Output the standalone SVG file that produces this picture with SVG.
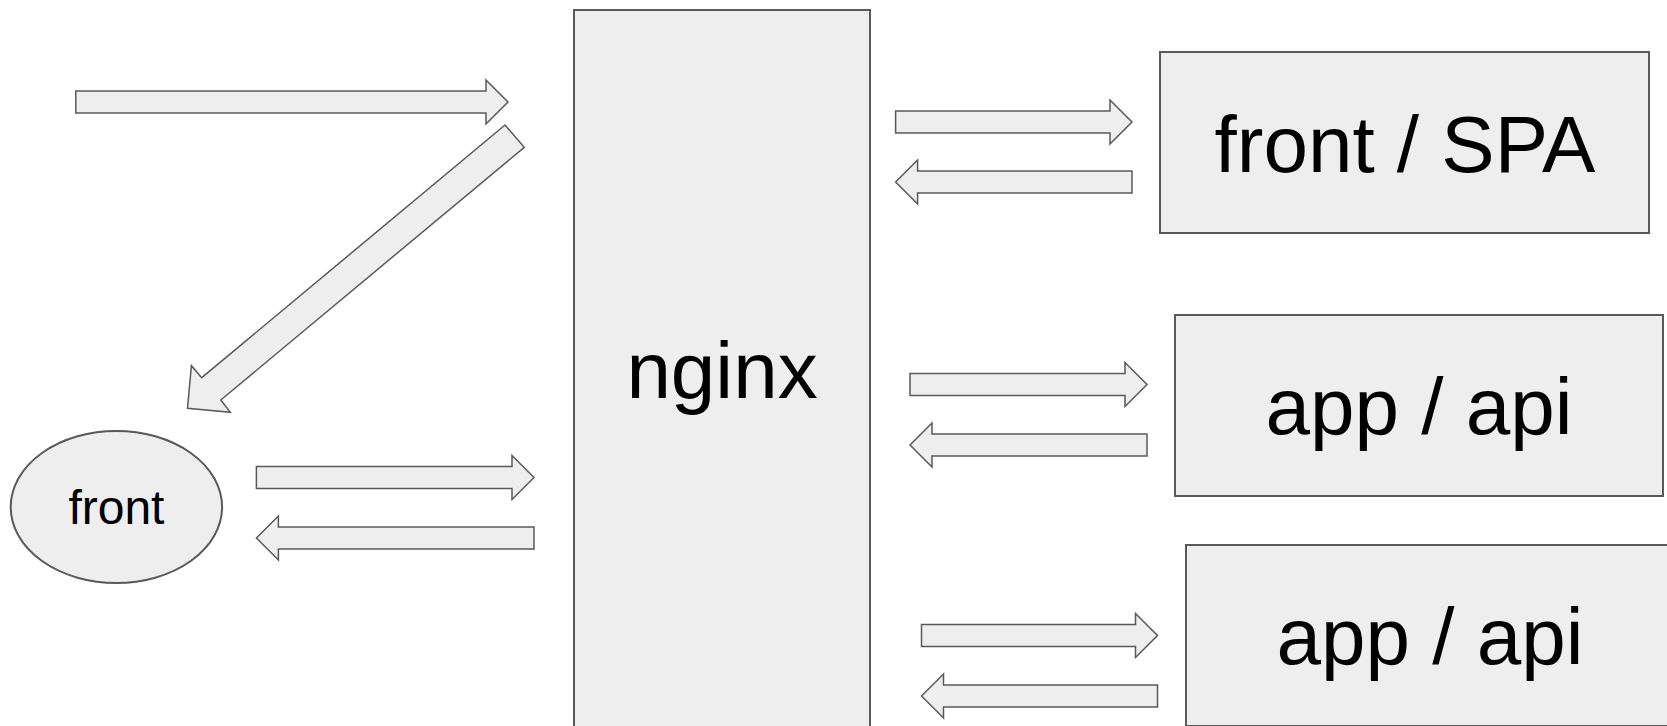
<svg xmlns="http://www.w3.org/2000/svg" width="1667" height="726" viewBox="0 0 1667 726">
<style>
.node{fill:#eeeeee;stroke:#595959;stroke-width:2}
.arrow{fill:#eeeeee;stroke:#595959;stroke-width:1.5;stroke-linejoin:miter}
.big{font-family:"Liberation Sans",Arial,sans-serif;font-size:80px;fill:#000;text-anchor:middle}
.small{font-family:"Liberation Sans",Arial,sans-serif;font-size:48px;fill:#000;text-anchor:middle}
</style>
<rect width="1667" height="726" fill="#ffffff"/>
<g id="nginx">
<rect class="node" x="574" y="10" width="296" height="730"/>
<text class="big" x="722" y="398">nginx</text>
</g>
<g id="front-spa">
<rect class="node" x="1160" y="52" width="489" height="181"/>
<text class="big" x="1405" y="172">front / SPA</text>
</g>
<g id="app-api-1">
<rect class="node" x="1175" y="315" width="488" height="181"/>
<text class="big" x="1419" y="434">app / api</text>
</g>
<g id="app-api-2">
<rect class="node" x="1186" y="545" width="500" height="181"/>
<text class="big" x="1430" y="664">app / api</text>
</g>
<g id="front">
<ellipse class="node" cx="116.4" cy="507" rx="105.7" ry="76"/>
<text class="small" x="116.4" y="524">front</text>
</g>
<g id="connectors">
<polygon class="arrow" points="75.8,91 486,91 486,80 508,102 486,124 486,113 75.8,113"/>
<polygon class="arrow" points="505,125 201.7,377.7 191.4,365.7 187.5,408.3 230.4,412.3 220.8,400 524.3,147.3"/>
<polygon class="arrow" points="256.4,466.5 512,466.5 512,455.5 534,477.5 512,499.5 512,488.5 256.4,488.5"/>
<polygon class="arrow" points="534,527 278.4,527 278.4,516 256.4,538 278.4,560 278.4,549 534,549"/>
<polygon class="arrow" points="895.6,111 1110,111 1110,100 1132,122 1110,144 1110,133 895.6,133"/>
<polygon class="arrow" points="1132,171 917.6,171 917.6,160 895.6,182 917.6,204 917.6,193 1132,193"/>
<polygon class="arrow" points="910,373.5 1125,373.5 1125,362.5 1147,384.5 1125,406.5 1125,395.5 910,395.5"/>
<polygon class="arrow" points="1147,434 932,434 932,423 910,445 932,467 932,456 1147,456"/>
<polygon class="arrow" points="921.5,624.5 1135.5,624.5 1135.5,613.5 1157.5,635.5 1135.5,657.5 1135.5,646.5 921.5,646.5"/>
<polygon class="arrow" points="1157.5,685 943.5,685 943.5,674 921.5,696 943.5,718 943.5,707 1157.5,707"/>
</g>
</svg>
